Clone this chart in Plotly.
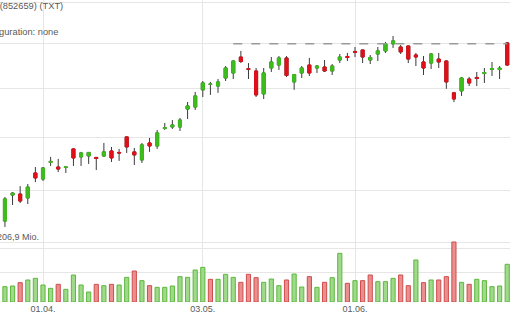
import plotly.graph_objects as go
import math

dates = [
    "2021-03-24", "2021-03-25", "2021-03-26", "2021-03-29", "2021-03-30", "2021-03-31",
    "2021-04-01", "2021-04-05", "2021-04-06", "2021-04-07", "2021-04-08", "2021-04-09",
    "2021-04-12", "2021-04-13", "2021-04-14", "2021-04-15", "2021-04-16",
    "2021-04-19", "2021-04-20", "2021-04-21", "2021-04-22", "2021-04-23",
    "2021-04-26", "2021-04-27", "2021-04-28", "2021-04-29", "2021-04-30",
    "2021-05-03", "2021-05-04", "2021-05-05", "2021-05-06", "2021-05-07",
    "2021-05-10", "2021-05-11", "2021-05-12", "2021-05-13", "2021-05-14",
    "2021-05-17", "2021-05-18", "2021-05-19", "2021-05-20", "2021-05-21",
    "2021-05-24", "2021-05-25", "2021-05-26", "2021-05-27", "2021-05-28",
    "2021-06-01", "2021-06-02", "2021-06-03", "2021-06-04",
    "2021-06-07", "2021-06-08", "2021-06-09", "2021-06-10", "2021-06-11",
    "2021-06-14", "2021-06-15", "2021-06-16", "2021-06-17", "2021-06-18",
    "2021-06-21", "2021-06-22", "2021-06-23", "2021-06-24", "2021-06-25",
    "2021-06-28", "2021-06-29",
]
extra_dates = ["2021-06-30", "2021-07-01"]

open_ = [53.06, 52.27, 54.56, 54.65, 54.30, 56.58, 56.02, 57.57, 57.14, 57.10,
         58.87, 58.10, 58.19, 58.05, 58.19, 58.67, 58.53, 60.05, 58.58, 57.81,
         59.45, 59.16, 60.89, 61.04, 61.04, 62.87, 63.08, 64.89, 65.47, 65.30,
         66.17, 66.72, 68.50, 67.21, 66.94, 64.46, 67.27, 67.60, 68.39, 65.74,
         66.72, 67.60, 67.27, 67.38, 66.94, 68.16, 68.56, 69.13, 69.30, 68.16,
         68.84, 69.19, 70.00, 69.64, 69.76, 68.73, 67.94, 67.82, 68.27, 68.05,
         64.57, 64.78, 66.06, 66.23, 66.66, 67.10, 67.10, 70.11]
high = [53.32, 54.39, 54.82, 55.37, 55.56, 57.14, 57.14, 58.10, 57.91, 57.16,
        58.92, 58.58, 58.55, 58.10, 59.45, 59.06, 58.87, 60.10, 58.96, 59.45,
        59.94, 60.74, 61.44, 61.74, 61.95, 63.60, 64.67, 65.84, 65.74, 66.06,
        67.49, 68.16, 69.19, 67.82, 67.27, 67.27, 68.50, 68.61, 68.61, 66.61,
        67.49, 68.39, 67.60, 68.16, 67.71, 68.84, 68.96, 69.64, 69.32, 68.73,
        69.64, 70.22, 70.91, 69.87, 69.78, 68.96, 68.61, 68.96, 68.96, 68.16,
        64.67, 66.28, 66.28, 66.83, 67.27, 67.94, 67.49, 70.22]
low = [52.45, 51.77, 53.67, 53.85, 53.76, 55.74, 55.84, 57.24, 56.67, 56.58,
       57.24, 57.24, 57.43, 56.86, 58.10, 57.62, 57.72, 58.48, 57.33, 57.52,
       58.58, 58.87, 60.74, 60.84, 60.64, 61.84, 62.77, 64.13, 64.35, 64.57,
       65.84, 66.06, 67.82, 66.06, 64.13, 63.92, 66.83, 67.05, 66.28, 64.89,
       66.17, 66.39, 66.72, 66.83, 66.50, 67.82, 68.05, 68.50, 67.82, 67.71,
       68.05, 68.96, 69.53, 68.84, 67.82, 67.49, 66.50, 67.16, 67.27, 65.00,
       63.60, 64.24, 65.30, 65.30, 65.63, 66.39, 66.06, 67.49]
close = [52.62, 54.21, 54.74, 54.03, 55.28, 56.12, 57.05, 57.67, 56.95, 57.14,
         58.00, 58.48, 58.53, 57.95, 58.58, 58.00, 58.48, 59.06, 58.29, 59.26,
         59.16, 60.44, 60.96, 61.24, 61.74, 63.19, 64.24, 65.63, 65.52, 65.74,
         67.27, 68.05, 67.99, 67.10, 64.35, 66.72, 67.94, 68.39, 66.45, 66.55,
         67.27, 66.72, 67.49, 66.94, 67.49, 68.50, 68.44, 69.01, 68.50, 68.45,
         69.19, 70.00, 70.34, 69.07, 68.27, 68.50, 67.27, 68.84, 67.94, 65.74,
         63.92, 66.17, 65.63, 66.12, 66.77, 67.21, 67.25, 67.60]
volume = [44.8, 52.9, 55.2, 66.7, 75.9, 81.6, 58.6, 47.1, 60.9, 43.7,
          93.1, 58.6, 34.5, 60.9, 56.3, 60.9, 58.6, 85.0, 106.9, 73.6,
          56.3, 50.6, 50.6, 55.2, 87.4, 85.0, 110.3, 119.5, 78.2, 78.2,
          95.4, 85.0, 67.8, 95.4, 83.9, 67.8, 79.3, 56.3, 75.9, 96.5,
          51.7, 87.4, 50.6, 67.8, 83.9, 167.8, 64.4, 73.6, 73.6, 93.1,
          70.1, 70.1, 81.6, 93.1, 56.3, 144.8, 66.7, 75.9, 75.9, 87.4,
          206.9, 67.8, 60.9, 78.2, 73.6, 52.9, 55.2, 130.0]

price_grid = [50, 55, 60, 65, 70, 75]
volume_max = 206.9
volume_grid = [volume_max / 2, volume_max]
resistance_level = 70.0
resistance_start = "2021-05-07"
tick_dates = ["2021-04-01", "2021-05-03", "2021-06-01"]
tick_text = ["01.04.", "03.05.", "01.06."]
next_tick_text = "01.07."

GREEN = "#3dbd1c"
RED = "#e0101a"
WICK = "#3a3a3a"
VOL_GREEN_FILL = "#9fd98a"
VOL_GREEN_LINE = "#5db83d"
VOL_RED_FILL = "#ea8e8e"
VOL_RED_LINE = "#cf4d4d"
GRID = "#e6e6e6"
TEXT = "#5a5a5a"
FONT = "Liberation Sans, Arial, sans-serif"

# volume colour: close vs previous close
vol_up = [True] + [close[i] >= close[i - 1] for i in range(1, len(close))]
vol_fill = [VOL_GREEN_FILL if u else VOL_RED_FILL for u in vol_up]
vol_line = [VOL_GREEN_LINE if u else VOL_RED_LINE for u in vol_up]

body_hi = [max(o, c) for o, c in zip(open_, close)]
body_lo = [min(o, c) for o, c in zip(open_, close)]

fig = go.Figure()

fig.add_trace(go.Bar(
    x=dates, y=volume, yaxis="y2",
    marker=dict(color=vol_fill, line=dict(color=vol_line, width=1)),
    hoverinfo="skip", showlegend=False,
))

# wicks
fig.add_trace(go.Candlestick(
    x=dates, open=open_, high=high, low=low, close=close,
    increasing=dict(line=dict(color=WICK, width=1), fillcolor=GREEN),
    decreasing=dict(line=dict(color=WICK, width=1), fillcolor=RED),
    whiskerwidth=0, showlegend=False, hoverinfo="skip",
))
# bodies
fig.add_trace(go.Candlestick(
    x=dates, open=open_, high=body_hi, low=body_lo, close=close,
    increasing=dict(line=dict(color=GREEN, width=1), fillcolor=GREEN),
    decreasing=dict(line=dict(color=RED, width=1), fillcolor=RED),
    whiskerwidth=0, showlegend=False, hoverinfo="skip",
))

all_cats = dates + extra_dates
n_px = 510.0
px_per_cat = 7.61
first_tick_px = 43.0
i_first = all_cats.index(tick_dates[0])
x0 = i_first - first_tick_px / px_per_cat
x1 = x0 + n_px / px_per_cat

fig.add_shape(type="line", xref="x", yref="y",
              x0=resistance_start, x1=dates[-1], y0=resistance_level, y1=resistance_level,
              line=dict(color="#9a9a9a", width=1.5, dash="dash"))

lo_log = math.log10(50) - 54 * (math.log10(1.5) / 246)
hi_log = math.log10(75) + 2 * (math.log10(1.5) / 246)

fig.update_layout(
    width=510, height=320,
    margin=dict(l=0, r=0, t=0, b=18),
    paper_bgcolor="white", plot_bgcolor="white",
    font=dict(family=FONT, size=9, color=TEXT),
    showlegend=False,
    bargap=0.45,
    boxgap=0.42,
    xaxis=dict(
        type="category", categoryorder="array", categoryarray=all_cats,
        range=[x0, x1], rangeslider=dict(visible=False),
        tickvals=tick_dates, ticktext=tick_text,
        showgrid=True, gridcolor=GRID, gridwidth=1,
        showline=False, zeroline=False, ticks="",
        tickfont=dict(size=9, color=TEXT),
    ),
    yaxis=dict(
        type="log", range=[lo_log, hi_log], tickvals=price_grid,
        showticklabels=False, showgrid=True, gridcolor=GRID, gridwidth=1,
        zeroline=False, showline=False, ticks="",
    ),
    yaxis2=dict(
        overlaying="y", range=[0, volume_max * 302 / 60], tickvals=volume_grid,
        showticklabels=False, showgrid=True, gridcolor=GRID, gridwidth=1,
        zeroline=False, showline=False, ticks="",
    ),
)

H = 302.0
fig.add_annotation(text="Textron Inc. (852659) (TXT)", xref="paper", yref="paper",
                   x=64.5 / n_px, y=(H - 6) / H, xanchor="right", yanchor="middle",
                   showarrow=False, font=dict(size=9.3, color=TEXT))
fig.add_annotation(text="Chart-Konfiguration: none", xref="paper", yref="paper",
                   x=60 / n_px, y=(H - 32) / H, xanchor="right", yanchor="middle",
                   showarrow=False, font=dict(size=9.3, color=TEXT))
fig.add_annotation(text=f"{volume_max:.1f} Mio.".replace(".", ",", 1), xref="paper", yref="paper",
                   x=41 / n_px, y=(H - 237) / H, xanchor="right", yanchor="middle",
                   showarrow=False, font=dict(size=9, color=TEXT))
fig.add_annotation(text=next_tick_text, xref="paper", yref="paper",
                   x=(first_tick_px + (all_cats.index("2021-07-01") - i_first) * px_per_cat) / n_px,
                   y=(H - 312) / H, xanchor="center", yanchor="middle",
                   showarrow=False, font=dict(size=9, color=TEXT))

fig.write_html("out.html")
